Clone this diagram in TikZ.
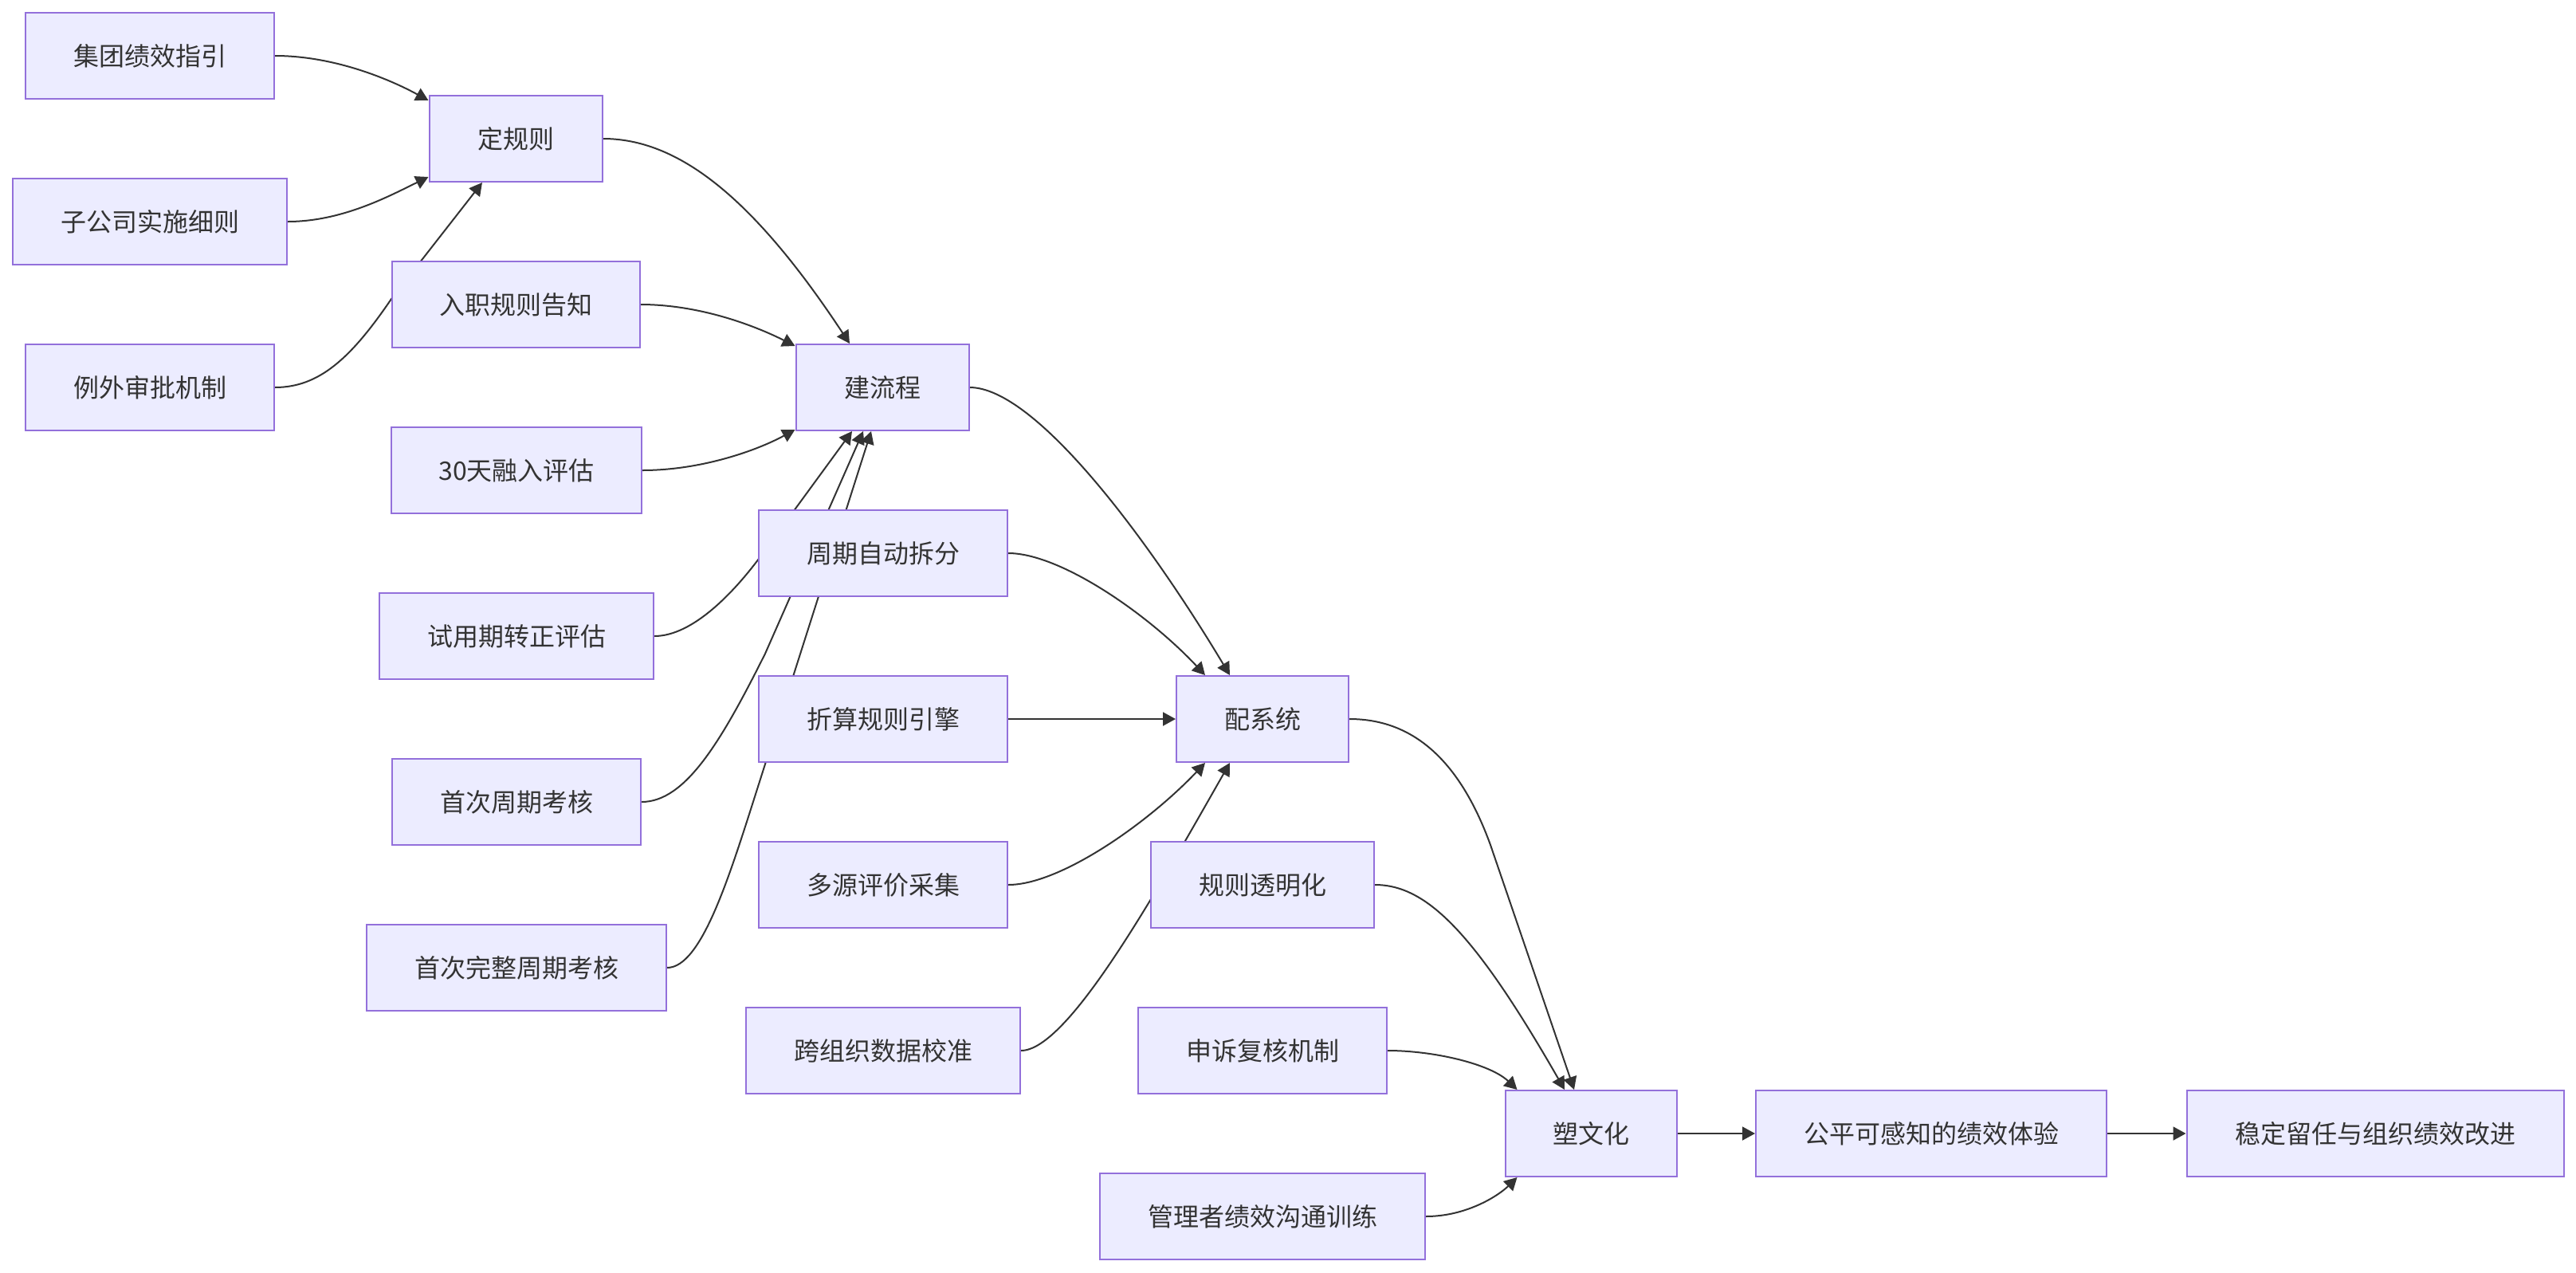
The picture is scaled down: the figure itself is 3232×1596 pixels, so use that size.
\documentclass[tikz,border=0pt]{standalone}
\usepackage{fontspec}
\setmainfont{Noto Sans CJK SC}
\usetikzlibrary{arrows.meta,calc}
\definecolor{nodefill}{HTML}{ECECFF}
\definecolor{nodeline}{HTML}{9370DB}
\definecolor{edgeline}{HTML}{333333}
\pgfdeclarelayer{bg}
\pgfsetlayers{bg,main}
\tikzset{
  box/.style={draw=nodeline, fill=nodefill, line width=2pt, minimum height=108pt,
    inner sep=0pt, text=edgeline, font=\fontsize{32pt}{38pt}\selectfont},
  link/.style={draw=edgeline, line width=2pt, -{Triangle[length=16pt,width=17pt]}}
}
\begin{document}
\begin{tikzpicture}[x=1pt,y=-1pt]
\useasboundingbox (0,0) rectangle (3232,1596);
\node[box, minimum width=312pt] (A) at (188,70) {集团绩效指引};
\node[box, minimum width=217pt] (B) at (647,174) {定规则};
\node[box, minimum width=344pt] (C) at (188,278) {子公司实施细则};
\node[box, minimum width=311pt] (D) at (647,382) {入职规则告知};
\node[box, minimum width=312pt] (E) at (188,486) {例外审批机制};
\node[box, minimum width=217pt] (F) at (1107,486) {建流程};
\node[box, minimum width=314pt] (G) at (648,590) {30天融入评估};
\node[box, minimum width=312pt] (H) at (1108,694) {周期自动拆分};
\node[box, minimum width=344pt] (I) at (648,798) {试用期转正评估};
\node[box, minimum width=312pt] (J) at (1108,902) {折算规则引擎};
\node[box, minimum width=216pt] (K) at (1584,902) {配系统};
\node[box, minimum width=312pt] (L) at (648,1006) {首次周期考核};
\node[box, minimum width=312pt] (M) at (1108,1110) {多源评价采集};
\node[box, minimum width=280pt] (N) at (1584,1110) {规则透明化};
\node[box, minimum width=376pt] (O) at (648,1214) {首次完整周期考核};
\node[box, minimum width=344pt] (P) at (1108,1318) {跨组织数据校准};
\node[box, minimum width=312pt] (Q) at (1584,1318) {申诉复核机制};
\node[box, minimum width=215pt] (R) at (1996,1422) {塑文化};
\node[box, minimum width=440pt] (S) at (2423,1422) {公平可感知的绩效体验};
\node[box, minimum width=473pt] (T) at (2980,1422) {稳定留任与组织绩效改进};
\node[box, minimum width=408pt] (U) at (1584,1526) {管理者绩效沟通训练};
\begin{pgfonlayer}{bg}
\draw[link] (A.east) .. controls (420,70) and (490,100) .. ($(B.north west)+(0,7)$);
\draw[link] (C.east) .. controls (430,278) and (490,245) .. ($(B.south west)+(0,-7)$);
\draw[link] (E.east) .. controls (400,486) and (440,450) .. (491,375) -- ($(B.south)+(-42,0)$);
\draw[link] (B.east) .. controls (850,174) and (944,246) .. ($(F.north)+(-41,0)$);
\draw[link] (D.east) .. controls (880,382) and (950,410) .. ($(F.north west)+(0,3)$);
\draw[link] (G.east) .. controls (880,590) and (950,565) .. ($(F.south west)+(0,-2)$);
\draw[link] (I.east) .. controls (870,798) and (922,741) .. (952,701) -- ($(F.south)+(-38,0)$);
\draw[link] (L.east) .. controls (860,1006) and (905,930) .. (960,820) -- ($(F.south)+(-24,0)$);
\draw[link] (O.east) .. controls (880,1214) and (915,1100) .. (950,990) -- ($(F.south)+(-14,0)$);
\draw[link] (F.east) .. controls (1300,486) and (1443,680) .. ($(K.north)+(-41,0)$);
\draw[link] (H.east) .. controls (1330,694) and (1440,770) .. ($(K.north)+(-72,0)$);
\draw[link] (J.east) -- (K.west);
\draw[link] (M.east) .. controls (1330,1110) and (1440,1033) .. ($(K.south)+(-72,0)$);
\draw[link] (P.east) .. controls (1340,1318) and (1450,1120) .. ($(K.south)+(-41,0)$);
\draw[link] (K.east) .. controls (1770,902) and (1830,950) .. (1870,1060) -- ($(R.north)+(-21,0)$);
\draw[link] (N.east) .. controls (1790,1110) and (1850,1170) .. ($(R.north)+(-33,0)$);
\draw[link] (Q.east) .. controls (1800,1318) and (1870,1335) .. ($(R.north west)+(16,0)$);
\draw[link] (U.east) .. controls (1840,1526) and (1880,1500) .. ($(R.south west)+(16,0)$);
\draw[link] (R.east) -- (S.west);
\draw[link] (S.east) -- (T.west);
\end{pgfonlayer}
\end{tikzpicture}
\end{document}
